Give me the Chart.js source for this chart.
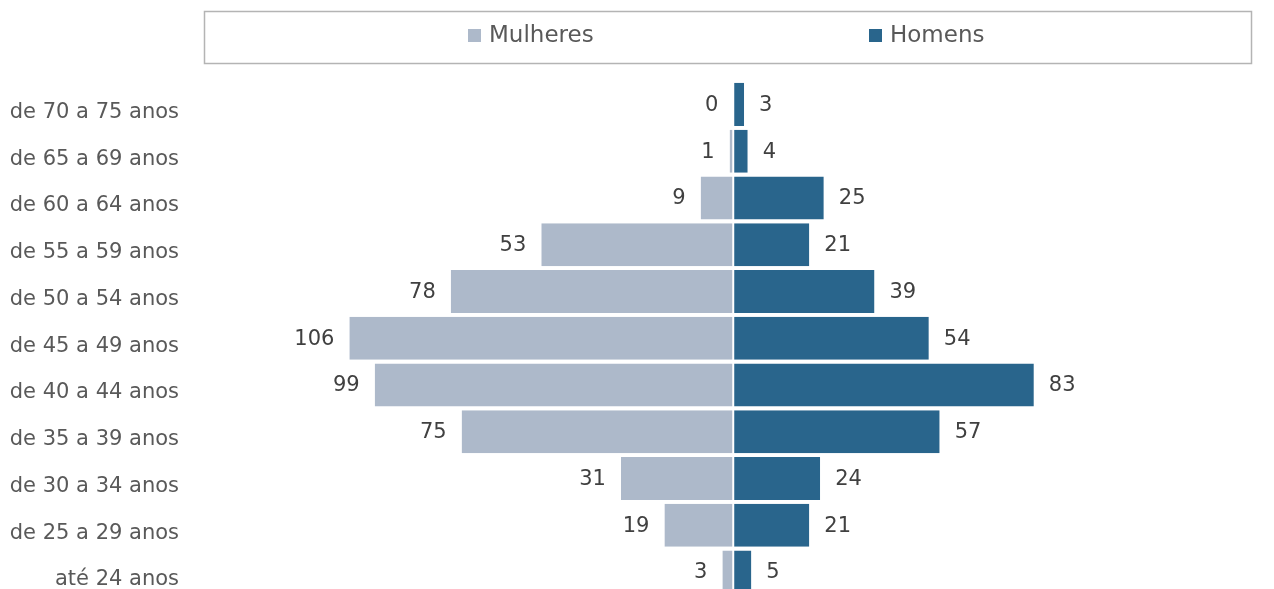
<!DOCTYPE html>
<html lang="pt">
  <head>
    <meta charset="UTF-8" />
    <title>Pirâmide etária</title>
    <script src="https://cdn.jsdelivr.net/npm/chart.js"></script>
    <style>
      html, body { margin: 0; padding: 0; overflow: hidden; background: #fff; }
      canvas { display: block; }
    </style>
  </head>
  <body>
    <canvas id="piramide" width="1274" height="611"></canvas>
    <script>
      // faixas etárias (de cima para baixo)
      var faixas = [
        "de 70 a 75 anos", "de 65 a 69 anos", "de 60 a 64 anos", "de 55 a 59 anos",
        "de 50 a 54 anos", "de 45 a 49 anos", "de 40 a 44 anos", "de 35 a 39 anos",
        "de 30 a 34 anos", "de 25 a 29 anos", "até 24 anos"
      ];
      var mulheres = [0, 1, 9, 53, 78, 106, 99, 75, 31, 19, 3];
      var homens = [3, 4, 25, 21, 39, 54, 83, 57, 24, 21, 5];

      var corMulheres = "#adb9ca";
      var corHomens = "#29658c";
      var fonte = "'DejaVu Sans', sans-serif";

      // legenda com moldura (como no Excel)
      var legendaBox = {
        id: "legendaBox",
        afterDraw: function (chart) {
          var ctx = chart.ctx;
          ctx.save();
          ctx.strokeStyle = "#b4b4b4";
          ctx.lineWidth = 1.5;
          ctx.strokeRect(204.5, 11.5, 1047, 52);
          var inicios = [468, 869];
          ctx.font = "23px " + fonte;
          ctx.textBaseline = "middle";
          ctx.textAlign = "left";
          chart.data.datasets.forEach(function (ds, i) {
            ctx.fillStyle = ds.backgroundColor;
            ctx.fillRect(inicios[i], 29, 13, 13);
            ctx.fillStyle = "#595959";
            ctx.fillText(ds.label, inicios[i] + 21, 36);
          });
          ctx.restore();
        },
      };

      // rótulos de valores nas pontas das barras
      var rotulos = {
        id: "rotulos",
        afterDatasetsDraw: function (chart) {
          var ctx = chart.ctx;
          ctx.save();
          ctx.font = "21px " + fonte;
          ctx.fillStyle = "#404040";
          ctx.textBaseline = "middle";
          chart.data.datasets.forEach(function (ds, i) {
            var meta = chart.getDatasetMeta(i);
            meta.data.forEach(function (bar, j) {
              var v = Math.abs(ds.data[j]);
              if (i === 0) {
                ctx.textAlign = "right";
                ctx.fillText(v, bar.x - 15, bar.y + 1);
              } else {
                ctx.textAlign = "left";
                ctx.fillText(v, bar.x + 15, bar.y + 1);
              }
            });
          });
          ctx.restore();
        },
      };

      var ctx = document.getElementById("piramide").getContext("2d");
      new Chart(ctx, {
        type: "bar",
        data: {
          labels: faixas,
          datasets: [
            {
              label: "Mulheres",
              data: mulheres.map(function (v) { return -v; }),
              backgroundColor: corMulheres,
              borderColor: "#ffffff",
              borderWidth: { left: 0, right: 1, top: 0, bottom: 0 },
              borderSkipped: false,
              barPercentage: 0.92,
              categoryPercentage: 1,
            },
            {
              label: "Homens",
              data: homens,
              backgroundColor: corHomens,
              borderColor: "#ffffff",
              borderWidth: { left: 1, right: 0, top: 0, bottom: 0 },
              borderSkipped: false,
              barPercentage: 0.92,
              categoryPercentage: 1,
            },
          ],
        },
        options: {
          indexAxis: "y",
          responsive: false,
          animation: false,
          layout: { padding: { top: 81, right: 12, bottom: 10, left: 0 } },
          plugins: {
            legend: { display: false },
            tooltip: { enabled: false },
          },
          scales: {
            x: {
              stacked: true,
              min: -150,
              max: 146,
              display: false,
            },
            y: {
              stacked: true,
              grid: { display: false },
              border: { display: false },
              ticks: {
                color: "#595959",
                font: { family: fonte, size: 21 },
                padding: 3,
                labelOffset: 8,
              },
              afterFit: function (scale) {
                scale.width = 190;
              },
            },
          },
        },
        plugins: [legendaBox, rotulos],
      });
    </script>
  </body>
</html>
